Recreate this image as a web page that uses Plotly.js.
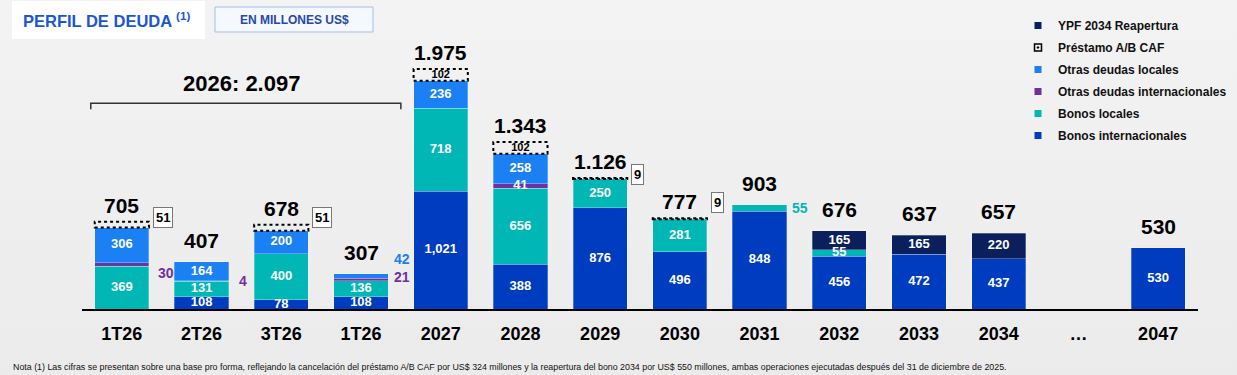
<!DOCTYPE html>
<html>
<head>
<meta charset="utf-8">
<script src="https://cdn.plot.ly/plotly-3.0.1.min.js"></script>
<style>
  html, body { margin:0; padding:0; }
  body { width:1237px; height:375px; background: linear-gradient(#f3f3f3, #ebebeb); overflow:hidden; }
  #chart { width:1237px; height:375px; }
</style>
</head>
<body>
<div id="chart"></div>
<script>
// ---------------- DATA ----------------
const categories = ['1T26','2T26','3T26','1T26','2027','2028','2029','2030','2031','2032','2033','2034','…','2047'];
const bonosInternacionales   = [null, 108, 78, 108, 1021, 388, 876, 496, 848, 456, 472, 437, null, 530];
const bonosLocales           = [369, 131, 400, 136, 718, 656, 250, 281, 55, 55, null, null, null, null];
const otrasDeudasInternac    = [30, 4, null, 21, null, 41, null, null, null, null, null, null, null, null];
const otrasDeudasLocales     = [306, 164, 200, 42, 236, 258, null, null, null, null, null, null, null, null];
const ypf2034Reapertura      = [null, null, null, null, null, null, null, null, null, 165, 165, 220, null, null];
const prestamoCAF            = [51, null, 51, null, 102, 102, 9, 9, null, null, null, null, null, null];
const bracketLabel = '2026';
const bracketCats = [0, 1, 2, 3];
const footnote = 'Nota (1) Las cifras se presentan sobre una base pro forma, reflejando la cancelación del préstamo A/B CAF por US$ 324 millones y la reapertura del bono 2034 por US$ 550 millones, ambas operaciones ejecutadas después del 31 de diciembre de 2025.';

// ---------------- STYLE ----------------
const FONT = 'Arial, "Liberation Sans", sans-serif';
const COL = {
  bInt: '#003cc0', bLoc: '#00b7b6', oInt: '#7030a0', oLoc: '#1a80f4', ypf: '#0b1f5d'
};
const W = 1237, H = 375;
const M = { l: 82, r: 39, t: 20, b: 66, autoexpand: false };
const PW = W - M.l - M.r, PH = H - M.t - M.b;
const BARW = 0.68, HALF = BARW / 2;
const px2x = px => (px - M.l) / PW;           // paper x
const px2y = py => 1 - (py - M.t) / PH;        // paper y

const xs = categories.map((_, i) => i);
const series = [
  { key: 'bInt', name: 'Bonos internacionales', vals: bonosInternacionales, color: COL.bInt },
  { key: 'bLoc', name: 'Bonos locales', vals: bonosLocales, color: COL.bLoc },
  { key: 'oInt', name: 'Otras deudas internacionales', vals: otrasDeudasInternac, color: COL.oInt },
  { key: 'oLoc', name: 'Otras deudas locales', vals: otrasDeudasLocales, color: COL.oLoc },
  { key: 'ypf',  name: 'YPF 2034 Reapertura', vals: ypf2034Reapertura, color: COL.ypf }
];
// segments labelled outside the bar: [seriesKey, index, xshift, yshift]
const outside = [['oInt',0,7,-8],['oInt',1,8,0],['oInt',3,4,3],['oLoc',3,4,17],['bLoc',8,3,0]];
const isOutside = (k,i) => outside.some(o => o[0]===k && o[1]===i);
const cafBoxShift = {0: 4, 2: 7, 6: 3, 7: 16};

const fmtComma = n => n.toString().replace(/\B(?=(\d{3})+(?!\d))/g, ',');
const fmtDot = n => n.toString().replace(/\B(?=(\d{3})+(?!\d))/g, '.');

const totals = xs.map(i => series.reduce((s, se) => s + (se.vals[i] || 0), 0));

const traces = [];
const annotations = [];
const shapes = [];
const base = xs.map(() => 0);
series.forEach(se => {
  traces.push({
    type: 'bar', x: xs, y: se.vals, width: BARW, name: se.name, showlegend: false,
    marker: { color: se.color, line: { color: 'rgba(255,255,255,0.35)', width: 0.8 } },
    hoverinfo: 'skip'
  });
  const tx = [], ty = [], tt = [];
  se.vals.forEach((v, i) => {
    if (v && !isOutside(se.key, i)) { tx.push(i); ty.push(base[i] + v / 2); tt.push(fmtComma(v)); }
    if (v && isOutside(se.key, i)) {
      const o = outside.find(o => o[0]===se.key && o[1]===i);
      annotations.push({ x: i + HALF, y: base[i] + v / 2, xref: 'x', yref: 'y', xanchor: 'left', yanchor: 'middle',
        xshift: o[2], yshift: o[3], showarrow: false, text: String(v),
        font: { family: FONT, size: 14, color: se.color, weight: 'bold' } });
    }
  });
  if (tx.length) {
    traces.push({ type: 'scatter', mode: 'text', x: tx, y: ty, text: tt, showlegend: false, hoverinfo: 'skip',
      textposition: 'middle center', cliponaxis: false,
      textfont: { family: FONT, size: 13, color: '#ffffff', weight: 'bold' } });
  }
  se.vals.forEach((v, i) => { base[i] += (v || 0); });
});

// CAF (dotted boxes on top)
traces.push({ type: 'bar', x: xs, y: prestamoCAF, width: BARW, name: 'Préstamo A/B CAF', showlegend: false,
  marker: { color: 'rgba(0,0,0,0)', line: { width: 0 } }, hoverinfo: 'skip' });
const cafTx = [], cafTy = [], cafTt = [];
prestamoCAF.forEach((v, i) => {
  if (!v) return;
  shapes.push({ type: 'rect', xref: 'x', yref: 'y', x0: i - HALF, x1: i + HALF, y0: totals[i], y1: totals[i] + v,
    line: { color: '#000', width: 2, dash: 'dot' }, fillcolor: 'rgba(0,0,0,0)' });
  if (v >= 100) { cafTx.push(i); cafTy.push(totals[i] + v / 2); cafTt.push(String(v)); }
  else {
    annotations.push({ x: i + HALF, y: totals[i] + v, xref: 'x', yref: 'y', xanchor: 'left', yanchor: 'middle',
      xshift: 4, yshift: cafBoxShift[i] || 4, showarrow: false, text: String(v),
      bgcolor: '#ffffff', bordercolor: '#777', borderwidth: 1, borderpad: 2,
      font: { family: FONT, size: 13, color: '#000', weight: 'bold' } });
  }
});
traces.push({ type: 'scatter', mode: 'text', x: cafTx, y: cafTy, text: cafTt, showlegend: false, hoverinfo: 'skip',
  textposition: 'middle center', cliponaxis: false,
  textfont: { family: FONT, size: 11, color: '#000', weight: 'bold' } });

// total labels
xs.forEach(i => {
  if (!totals[i]) return;
  const caf = prestamoCAF[i] || 0;
  annotations.push({ x: i, y: totals[i] + caf, xref: 'x', yref: 'y', xanchor: 'center', yanchor: 'bottom',
    yshift: caf ? 3 : 8, showarrow: false, text: fmtDot(totals[i]),
    font: { family: FONT, size: 21, color: '#000', weight: 'bold' } });
});

// bracket for 2026
const bTotal = bracketCats.reduce((s, i) => s + totals[i], 0);
const bx0 = bracketCats[0] - 0.39, bx1 = bracketCats[bracketCats.length - 1] + 0.5;
shapes.push({ type: 'path', xref: 'x', yref: 'y', path: `M ${bx0},1729 L ${bx0},1781 L ${bx1},1781 L ${bx1},1729`,
  line: { color: '#333', width: 1.5 } });
annotations.push({ x: (bracketCats[0] + bracketCats[bracketCats.length - 1]) / 2, y: 1781, xref: 'x', yref: 'y',
  yanchor: 'bottom', yshift: 5, showarrow: false, text: bracketLabel + ': ' + fmtDot(bTotal),
  font: { family: FONT, size: 22, color: '#000', weight: 'bold' } });

// title boxes
shapes.push({ type: 'rect', xref: 'paper', yref: 'paper', x0: px2x(12), x1: px2x(205), y0: px2y(39), y1: px2y(1),
  line: { width: 0 }, fillcolor: '#ffffff', layer: 'below' });
annotations.push({ xref: 'paper', yref: 'paper', x: px2x(21), y: px2y(20), xanchor: 'left', yanchor: 'middle',
  showarrow: false, text: 'PERFIL DE DEUDA <sup>(1)</sup>', font: { family: FONT, size: 16.5, color: '#1a55d8', weight: 'bold' } });
shapes.push({ type: 'rect', xref: 'paper', yref: 'paper', x0: px2x(215), x1: px2x(373), y0: px2y(32), y1: px2y(7),
  line: { width: 1, color: '#a3bdec' }, fillcolor: '#f5f8fe', layer: 'below' });
annotations.push({ xref: 'paper', yref: 'paper', x: px2x(294), y: px2y(20), xanchor: 'center', yanchor: 'middle',
  showarrow: false, text: 'EN MILLONES US$', font: { family: FONT, size: 12, color: '#2a48a6', weight: 'bold' } });

// footnote
annotations.push({ xref: 'paper', yref: 'paper', x: px2x(11), y: px2y(367), xanchor: 'left', yanchor: 'middle',
  showarrow: false, text: footnote, font: { family: FONT, size: 8.85, color: '#111' } });

// legend (dummy traces for small square symbols)
const legendItems = [
  { name: 'YPF 2034 Reapertura', color: COL.ypf, symbol: 'square' },
  { name: 'Préstamo A/B CAF', color: '#000', symbol: 'square-open-dot' },
  { name: 'Otras deudas locales', color: COL.oLoc, symbol: 'square' },
  { name: 'Otras deudas internacionales', color: COL.oInt, symbol: 'square' },
  { name: 'Bonos locales', color: COL.bLoc, symbol: 'square' },
  { name: 'Bonos internacionales', color: COL.bInt, symbol: 'square' }
];
legendItems.forEach((it, k) => {
  traces.push({ type: 'scatter', mode: 'markers', x: [null], y: [null], name: it.name, legendgroup: 'g' + k,
    showlegend: true, hoverinfo: 'skip',
    marker: { symbol: it.symbol, size: 7, color: it.color, line: { color: it.color, width: it.symbol === 'square' ? 0 : 1.5 } } });
});

const layout = {
  width: W, height: H,
  margin: M,
  paper_bgcolor: 'rgba(0,0,0,0)', plot_bgcolor: 'rgba(0,0,0,0)',
  barmode: 'stack',
  font: { family: FONT },
  showlegend: true,
  legend: { xref: 'container', yref: 'container', x: 1018 / W, y: 1 - 11 / H, xanchor: 'left', yanchor: 'top',
    traceorder: 'grouped', tracegroupgap: 3, bgcolor: 'rgba(0,0,0,0)', itemwidth: 30,
    font: { family: FONT, size: 12, color: '#111', weight: 'bold' } },
  xaxis: { range: [-0.5, 13.5], tickvals: xs, ticktext: categories, ticks: '', showgrid: false, zeroline: false,
    showline: true, linecolor: '#000', linewidth: 1.5, ticklabelstandoff: 8,
    tickfont: { family: FONT, size: 18, color: '#000', weight: 'bold' }, fixedrange: true },
  yaxis: { range: [0, 2502], visible: false, showgrid: false, zeroline: false, fixedrange: true },
  shapes: shapes,
  annotations: annotations
};

Plotly.newPlot('chart', traces, layout, { displayModeBar: false, staticPlot: true });
</script>
</body>
</html>
